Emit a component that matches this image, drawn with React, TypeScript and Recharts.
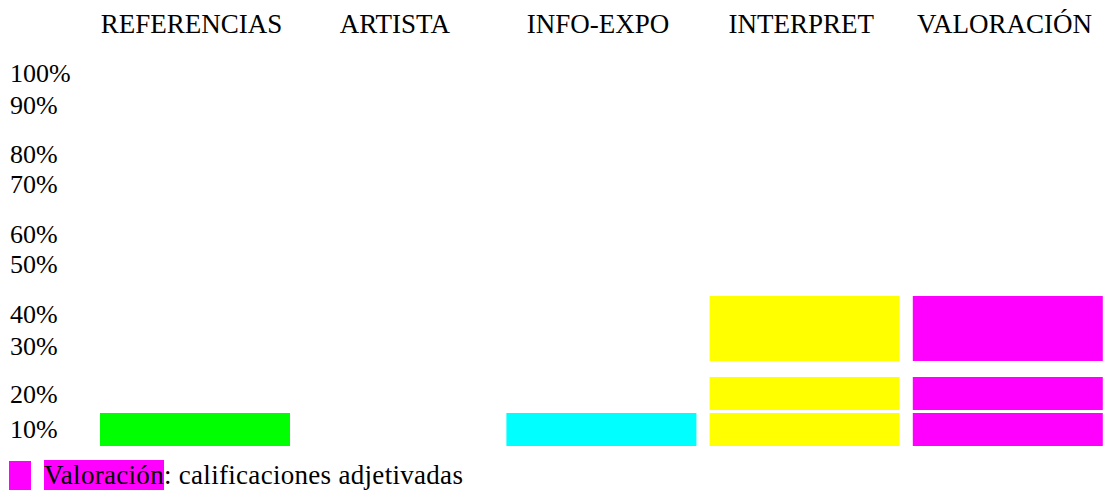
import React from 'react';
import { BarChart, Bar, XAxis, YAxis, Cell, Legend } from 'recharts';

// Categorías (columnas de la tabla)
const categorias = ['REFERENCIAS', 'ARTISTA', 'INFO-EXPO', 'INTERPRET', 'VALORACIÓN'];
const coloresCategoria = ['#00FF00', '#FFFFFF', '#00FFFF', '#FFFF00', '#FF00FF'];

// Bloques apilados (unidades del eje vertical) y huecos entre bloques
const bloque1 = [3.3, 0, 3.3, 3.3, 3.3];
const hueco1 = [0, 0, 0, 0.3, 0.3];
const bloque2 = [0, 0, 0, 3.3, 3.3];
const hueco2 = [0, 0, 0, 1.6, 1.6];
const bloque3 = [0, 0, 0, 6.5, 6.5];

// Etiquetas del eje vertical y su posición (unidades del eje)
const etiquetasEje = ['10%', '20%', '30%', '40%', '50%', '60%', '70%', '80%', '90%', '100%'];
const posicionesEje = [1.7, 5.2, 10.0, 13.2, 18.25, 21.25, 26.25, 29.25, 34.1, 37.3];

// Leyenda
const leyendaTermino = 'Valoración';
const leyendaDescripcion = ': calificaciones adjetivadas';
const leyendaColor = '#FF00FF';

const data = categorias.map((c, i) => ({
  categoria: c,
  bloque1: bloque1[i],
  hueco1: hueco1[i],
  bloque2: bloque2[i],
  hueco2: hueco2[i],
  bloque3: bloque3[i],
}));

const FONT = "'Liberation Serif', 'Times New Roman', Times, serif";

const XTick = (props: any) => {
  const { x, y, payload } = props;
  return (
    <text x={x - 3} y={y} textAnchor="middle" fontFamily={FONT} fontSize={27} fill="#000">
      {payload.value}
    </text>
  );
};

const YTick = (props: any) => {
  const { y, payload } = props;
  const idx = posicionesEje.indexOf(payload.value);
  return (
    <text x={10} y={y} dy="0.355em" textAnchor="start" fontFamily={FONT} fontSize={26} fill="#000">
      {idx >= 0 ? etiquetasEje[idx] : ''}
    </text>
  );
};

const LegendContent = () => (
  <div style={{ position: 'relative', height: 29, width: 1104, fontFamily: FONT, fontSize: 27, whiteSpace: 'nowrap', color: '#000' }}>
    <span style={{ position: 'absolute', left: 9, top: 0, width: 22, height: 29, background: leyendaColor }} />
    <span style={{ position: 'absolute', left: 44, top: 0, lineHeight: '29px', letterSpacing: 0.3 }}>
      <span style={{ background: leyendaColor }}>{leyendaTermino}</span>
      {leyendaDescripcion}
    </span>
  </div>
);

const series = ['bloque1', 'hueco1', 'bloque2', 'hueco2', 'bloque3'];

export default function App() {
  return (
    <div style={{ position: 'absolute', left: 0, top: 0, width: 1104, height: 490, overflow: 'hidden', background: '#fff' }}>
      <BarChart
        width={1104}
        height={490}
        data={data}
        margin={{ top: 0, right: -5, left: 0, bottom: 15 }}
        barSize={190}
      >
        <XAxis
          dataKey="categoria"
          orientation="top"
          height={56}
          axisLine={false}
          tickLine={false}
          tickSize={0}
          tickMargin={23}
          interval={0}
          tick={<XTick />}
        />
        <YAxis
          type="number"
          domain={[0, 39]}
          ticks={posicionesEje}
          interval={0}
          width={93}
          axisLine={false}
          tickLine={false}
          tick={<YTick />}
        />
        <Legend verticalAlign="bottom" wrapperStyle={{ left: 0, bottom: 0, width: 1104, height: 29 }} content={<LegendContent />} />
        {series.map((s) => (
          <Bar key={s} dataKey={s} stackId="a" isAnimationActive={false} legendType="none">
            {data.map((d, i) => (
              <Cell key={i} fill={s.startsWith('hueco') ? 'transparent' : coloresCategoria[i]} />
            ))}
          </Bar>
        ))}
      </BarChart>
    </div>
  );
}
